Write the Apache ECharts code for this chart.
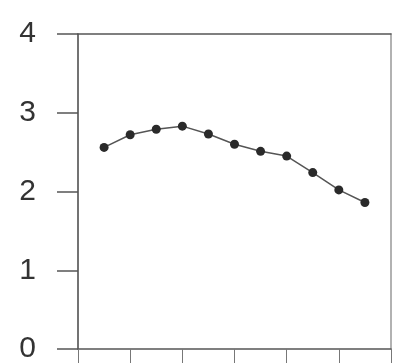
<!DOCTYPE html>
<html><head><meta charset="utf-8">
<script src="https://cdn.jsdelivr.net/npm/echarts@6/dist/echarts.min.js"></script>
<style>html,body{margin:0;padding:0;background:#fff}#c{width:401px;height:364px}</style>
</head><body><div id="c"></div>
<script>
var xValues = [0.5, 1, 1.5, 2, 2.5, 3, 3.5, 4, 4.5, 5, 5.5];
var yValues = [2.56, 2.72, 2.79, 2.83, 2.73, 2.60, 2.51, 2.45, 2.24, 2.02, 1.86];
var yTicks = [0, 1, 2, 3, 4];

var chart = echarts.init(document.getElementById('c'), null, {renderer: 'canvas'});
chart.setOption({
  animation: false,
  backgroundColor: '#ffffff',
  grid: {left: 78, right: 10, top: 34, bottom: 13},
  xAxis: [{
    type: 'value', min: 0, max: 6, interval: 1, position: 'bottom',
    axisLine: {show: true, lineStyle: {color: '#555', width: 1.5}},
    axisTick: {show: true, length: 14, lineStyle: {color: '#777', width: 1}},
    axisLabel: {show: false}, splitLine: {show: false}
  }, {
    type: 'value', min: 0, max: 6, position: 'top',
    axisLine: {show: true, onZero: false, lineStyle: {color: '#555', width: 1.5}},
    axisTick: {show: false}, axisLabel: {show: false}, splitLine: {show: false}
  }],
  yAxis: [{
    type: 'value', min: 0, max: 4, interval: 1, position: 'left',
    axisLine: {show: true, lineStyle: {color: '#444', width: 1.5}},
    axisTick: {show: true, length: 21, lineStyle: {color: '#555', width: 1.5}},
    axisLabel: {
      show: true, margin: 42, fontSize: 30, color: '#333',
      fontFamily: 'Liberation Sans, Arial, sans-serif',
      formatter: function (v) { return yTicks.indexOf(v) >= 0 ? String(v) : ''; }
    },
    splitLine: {show: false}
  }, {
    type: 'value', min: 0, max: 4, position: 'right',
    axisLine: {show: true, onZero: false, lineStyle: {color: '#999', width: 1.5}},
    axisTick: {show: false}, axisLabel: {show: false}, splitLine: {show: false}
  }],
  series: [{
    type: 'line',
    data: xValues.map(function (x, i) { return [x, yValues[i]]; }),
    symbol: 'circle', symbolSize: 9,
    itemStyle: {color: '#2a2a2a'},
    lineStyle: {color: '#555', width: 1.5}
  }]
});
</script></body></html>
